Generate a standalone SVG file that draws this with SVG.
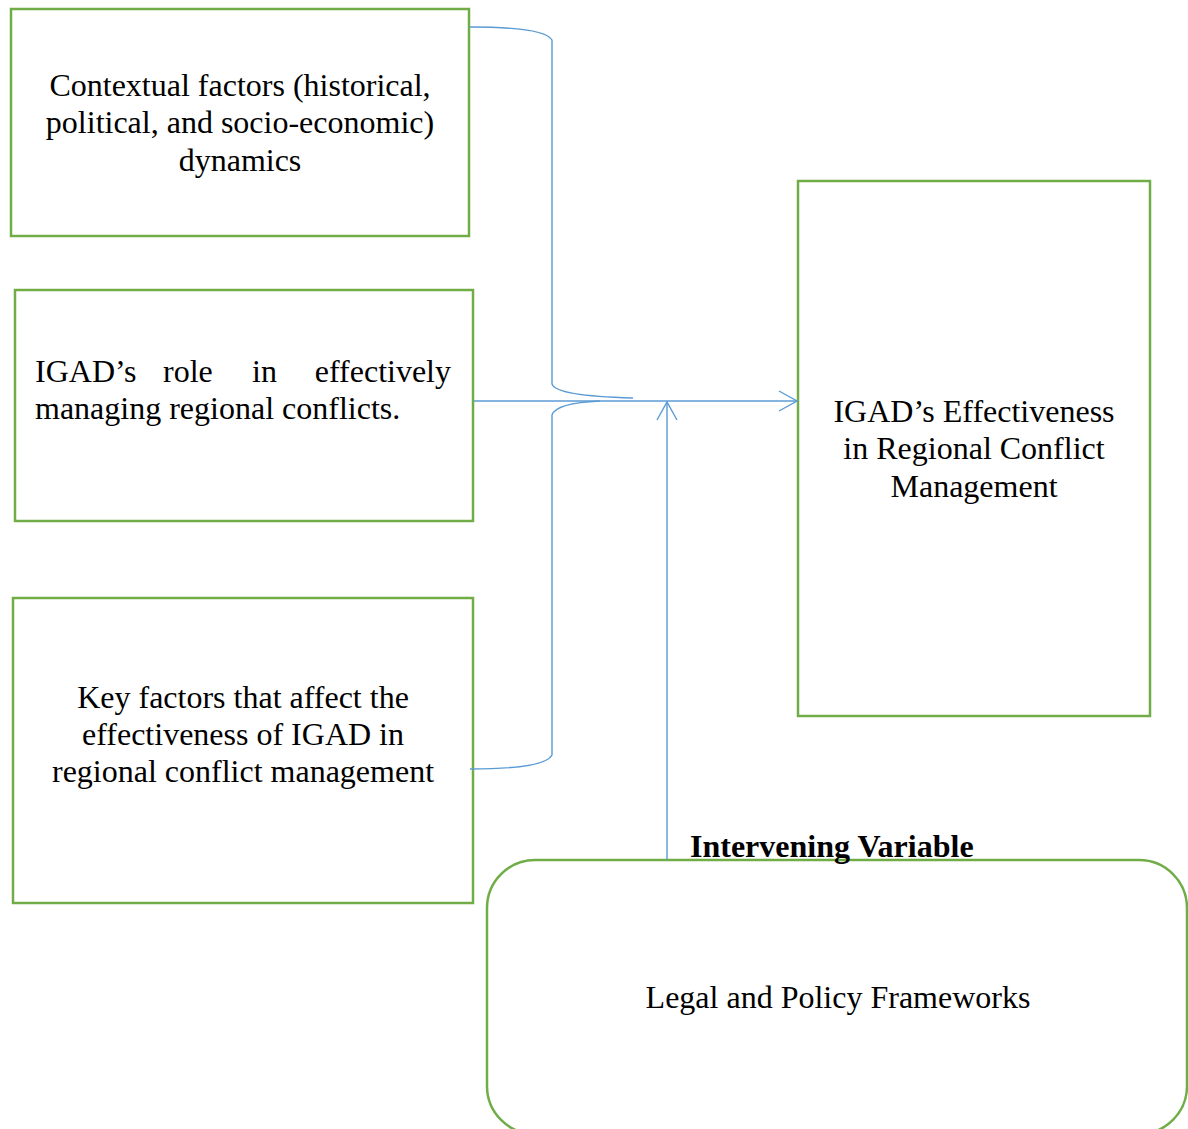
<svg xmlns="http://www.w3.org/2000/svg" width="1188" height="1129" viewBox="0 0 1188 1129">
<style>
.box{fill:#fff;stroke:#70AD47;stroke-width:2.5}
.t{font-family:"Liberation Serif","Times New Roman",serif;font-size:32px;fill:#000}
.c{text-anchor:middle}
.b{font-weight:bold;font-size:32px}
.ln{fill:none;stroke:#5B9BD5;stroke-width:1.4}
</style>
<defs>
<marker id="arr" markerWidth="22" markerHeight="24" refX="19" refY="12" orient="auto" markerUnits="userSpaceOnUse">
<path d="M1,2 L19,12 L1,22" fill="none" stroke="#5B9BD5" stroke-width="1.4"/>
</marker>
</defs>
<rect width="1188" height="1129" fill="#fff"/>
<g id="n1">
<rect class="box" x="11" y="9" width="458" height="227"/>
<text class="t c" x="240" y="96">Contextual factors (historical,</text>
<text class="t c" x="240" y="133">political, and socio-economic)</text>
<text class="t c" x="240" y="171">dynamics</text>
</g>
<g id="n2">
<rect class="box" x="15" y="290" width="458" height="231"/>
<text class="t" y="382"><tspan x="35">IGAD’s</tspan><tspan x="163">role</tspan><tspan x="252">in</tspan><tspan x="451" text-anchor="end">effectively</tspan></text>
<text class="t" x="35" y="419">managing regional conflicts.</text>
</g>
<g id="n3">
<rect class="box" x="13" y="598" width="460" height="305"/>
<text class="t c" x="243" y="708">Key factors that affect the</text>
<text class="t c" x="243" y="745">effectiveness of IGAD in</text>
<text class="t c" x="243" y="782">regional conflict management</text>
</g>
<g id="n4">
<rect class="box" x="798" y="181" width="352" height="535"/>
<text class="t c" x="974" y="422">IGAD’s Effectiveness</text>
<text class="t c" x="974" y="459">in Regional Conflict</text>
<text class="t c" x="974" y="497">Management</text>
</g>
<g id="n5">
<rect class="box" x="487" y="860" width="700" height="274" rx="48" ry="48"/>
<text class="t c" x="838" y="1008">Legal and Policy Frameworks</text>
</g>
<g id="connectors">
<path class="ln" d="M470,27 Q545,27 552,40 L552,384 Q556,396 633,398"/>
<path class="ln" d="M470,769 Q545,769 552,755 L552,415 Q556,403 600,401"/>
<line class="ln" x1="474" y1="401" x2="797" y2="401" marker-end="url(#arr)"/>
<line class="ln" x1="667" y1="860" x2="667" y2="402" marker-end="url(#arr)"/>
</g>
<text class="t b" x="690" y="857">Intervening Variable</text>
</svg>
